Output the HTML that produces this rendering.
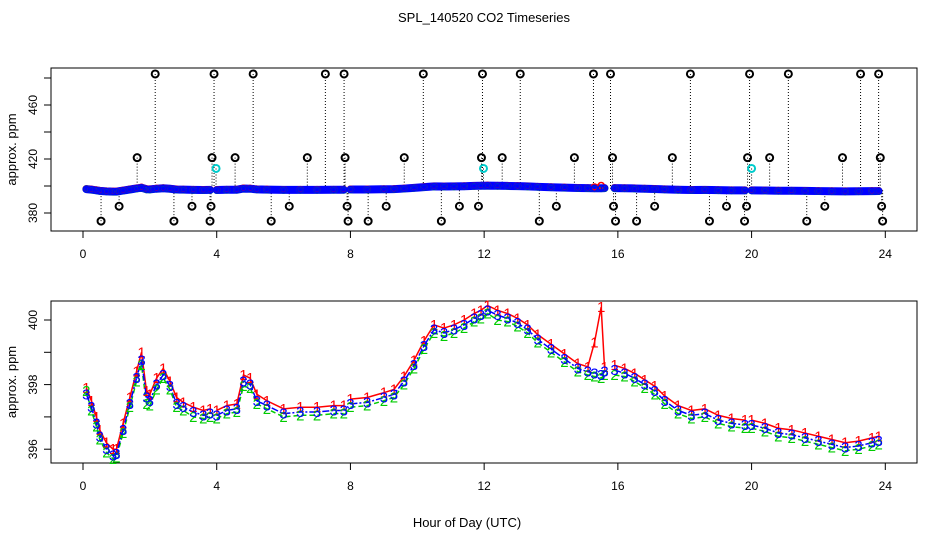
<!DOCTYPE html>
<html><head><meta charset="utf-8">
<style>
html,body{margin:0;padding:0;background:#fff;}
svg{display:block;font-family:"Liberation Sans",Arial,sans-serif;}
</style></head>
<body>
<svg id="chart" width="936" height="540" viewBox="0 0 936 540" xmlns="http://www.w3.org/2000/svg">
<rect width="936" height="540" fill="#fff"/>
<text x="484" y="22" font-size="13" text-anchor="middle">SPL_140520  CO2 Timeseries</text>
<g id="topPanel"></g>
<g id="botPanel"></g>
<text x="467" y="527" font-size="13" text-anchor="middle">Hour of Day (UTC)</text>
</svg>
<script>
const hours = [0.1,0.25,0.4,0.5,0.7,0.9,1.0,1.2,1.4,1.6,1.75,1.9,2.0,2.2,2.4,2.6,2.8,3.0,3.3,3.6,3.8,3.9,4.0,4.3,4.6,4.8,5.0,5.2,5.5,6.0,6.5,7.0,7.5,7.8,7.9,8.0,8.5,9.0,9.3,9.6,9.9,10.2,10.5,10.8,11.1,11.4,11.7,11.9,12.1,12.4,12.7,13.0,13.3,13.6,14.0,14.4,14.8,15.1,15.3,15.5,15.6,15.75,15.9,16.2,16.5,16.8,17.1,17.4,17.8,18.2,18.6,19.0,19.4,19.8,19.9,20.0,20.4,20.8,21.2,21.6,22.0,22.4,22.8,23.2,23.6,23.8];
const series3 = [397.7,397.3,396.8,396.4,396.0,395.8,395.85,396.6,397.4,398.2,398.75,397.6,397.5,398.0,398.3,397.95,397.4,397.3,397.15,397.05,397.1,null,397.05,397.2,397.25,398.1,398.0,397.5,397.35,397.1,397.15,397.15,397.2,397.2,null,397.4,397.45,397.6,397.7,398.1,398.6,399.2,399.7,399.6,399.7,399.85,400.05,400.15,400.3,400.15,400.05,399.9,399.7,399.4,399.1,398.8,398.5,398.4,398.35,398.3,398.4,null,398.45,398.35,398.2,398.0,397.8,397.5,397.2,397.05,397.1,396.9,396.8,396.75,null,396.75,396.65,396.5,396.45,396.35,396.25,396.15,396.05,396.1,396.2,396.25];
const series1 = [397.9,397.5,397.0,396.6,396.2,396.0,396.0,396.8,397.6,398.4,399.0,397.8,397.7,398.2,398.5,398.1,397.6,397.45,397.3,397.2,397.25,null,397.2,397.35,397.4,398.3,398.2,397.7,397.5,397.25,397.3,397.3,397.35,397.35,null,397.55,397.6,397.75,397.85,398.25,398.75,399.35,399.85,399.75,399.85,400.0,400.2,400.3,400.45,400.3,400.2,400.05,399.85,399.55,399.25,398.95,398.65,398.55,399.3,400.4,398.55,null,398.6,398.5,398.35,398.15,397.95,397.65,397.35,397.2,397.25,397.05,396.95,396.9,null,396.9,396.8,396.65,396.6,396.5,396.4,396.3,396.2,396.25,396.35,396.4];
const series2 = [397.8,397.2,396.7,396.3,395.9,395.7,395.75,396.5,397.3,398.1,398.6,397.4,397.35,397.85,398.2,397.85,397.3,397.2,397.0,396.95,397.0,null,396.95,397.1,397.15,397.95,397.9,397.4,397.25,397.0,397.05,397.05,397.1,397.1,null,397.3,397.35,397.5,397.6,398.0,398.5,399.1,399.6,399.5,399.6,399.75,399.95,400.05,400.2,400.0,399.95,399.8,399.6,399.3,399.0,398.7,398.4,398.3,398.25,398.2,398.3,null,398.3,398.25,398.1,397.9,397.7,397.4,397.1,396.95,397.0,396.8,396.7,396.65,null,396.65,396.55,396.4,396.35,396.25,396.15,396.05,395.95,396.0,396.1,396.15];
const outHigh = [2.16,3.92,5.09,7.25,7.81,10.18,11.95,13.08,15.27,15.78,18.17,19.94,21.1,23.26,23.8];
const out421 = [1.62,3.86,4.55,6.71,7.84,9.61,11.92,12.54,14.7,15.84,17.63,19.88,20.54,22.72,23.85];
const out385 = [1.08,3.26,3.83,6.17,7.9,9.07,11.26,11.83,14.16,15.87,17.1,19.25,19.85,22.19,23.89];
const out374 = [0.54,2.72,3.8,5.63,7.93,8.53,10.72,13.65,15.93,16.56,18.74,19.79,21.65,23.92];
const outCyan = [3.98,11.98,20.0];
const outVals = [483,421,385,374,413];
const xTicks = [0,4,8,12,16,20,24];
const topTicks = [380,400,420,440,460,480];
const topLabels = [380,420,460];
const botTicks = [396,397,398,399,400];
const botLabels = [396,398,400];

const NS="http://www.w3.org/2000/svg";
function mk(p,t,a){const e=document.createElementNS(NS,t);for(const k in a)e.setAttribute(k,a[k]);p.appendChild(e);return e;}
const X = h => 83 + h*(885.3-83)/24;
const YT = v => 159 - (v-420)*27/20;
const YB = v => 320 + (400-v)*32.3;
const topG=document.getElementById('topPanel'), botG=document.getElementById('botPanel');

function frame(g,y0,y1,ticks,labels,Y,name){
  const r=mk(g,'rect',{x:51,y:y0,width:866,height:y1-y0,fill:'none',stroke:'#000','stroke-width':1});
  
  
  xTicks.forEach(t=>{
    const l=mk(g,'line',{x1:X(t),x2:X(t),y1:y1,y2:y1+7,stroke:'#000'});
    
    
    const tx=mk(g,'text',{x:X(t),y:y1+27,'font-size':12,'text-anchor':'middle'});tx.textContent=t;
    
    
  });
  ticks.forEach(t=>{
    const l=mk(g,'line',{x1:44,x2:51,y1:Y(t),y2:Y(t),stroke:'#000'});
    
    
  });
  labels.forEach(t=>{
    const tx=mk(g,'text',{x:0,y:0,'font-size':12,'text-anchor':'middle',transform:`translate(37,${Y(t)}) rotate(-90)`});tx.textContent=t;
    
    
  });
  const yt=mk(g,'text',{x:0,y:0,'font-size':13,'text-anchor':'middle',transform:`translate(16,${(y0+y1)/2}) rotate(-90)`});yt.textContent='approx. ppm';
  
  
}
frame(topG,68,231,topTicks,topLabels,YT,'top');
frame(botG,301,463,botTicks,botLabels,YB,'bottom');

function segs(vals){const out=[];let cur=[];vals.forEach((v,i)=>{if(v==null){if(cur.length)out.push(cur);cur=[];}else cur.push([hours[i],v]);});if(cur.length)out.push(cur);return out;}

const outSets=[outHigh,out421,out385,out374,outCyan];
outSets.forEach((arr,k)=>{
  arr.forEach(h=>{
    const l=mk(topG,'line',{x1:X(h),x2:X(h),y1:YT(outVals[k]),y2:YT(398),stroke:'#000','stroke-width':1,'stroke-dasharray':'1,2'});
    
    
  });
});
const series=[[series1,'#ff0000'],[series2,'#00cc00'],[series3,'#0000ff']];
segs(series3).forEach(s=>{
  const p=mk(topG,'polyline',{points:s.map(([h,v])=>X(h)+','+YT(v)).join(' '),fill:'none',stroke:'#0000ff','stroke-width':8,'stroke-linecap':'round'});
  
  
});
series.forEach(([vals,col])=>{
  vals.forEach((v,i)=>{if(v==null)return;
    const c=mk(topG,'circle',{cx:X(hours[i]),cy:YT(v),r:3,fill:'none',stroke:col,'stroke-width':1.5});
    
    
  });
});
outSets.forEach((arr,k)=>{
  arr.forEach(h=>{
    const c=mk(topG,'circle',{cx:X(h),cy:YT(outVals[k]),r:3.5,fill:'none',stroke:k==4?'#00cccc':'#000','stroke-width':2});
    
    
  });
});
const dashes=['', '5,3', '7,2,2,2'];
series.forEach(([vals,col],k)=>{
  segs(vals).forEach(s=>{
    const p=mk(botG,'polyline',{points:s.map(([h,v])=>X(h)+','+YB(v)).join(' '),fill:'none',stroke:col,'stroke-width':1.5,'stroke-dasharray':dashes[k]});
    
    
  });
});
series.forEach(([vals,col],k)=>{
  vals.forEach((v,i)=>{if(v==null)return;
    const t=mk(botG,'text',{x:X(hours[i]),y:YB(v)+5,'font-size':15,'text-anchor':'middle',fill:col});
    t.textContent=String(k+1);
    
    
  });
});
</script>
</body></html>
